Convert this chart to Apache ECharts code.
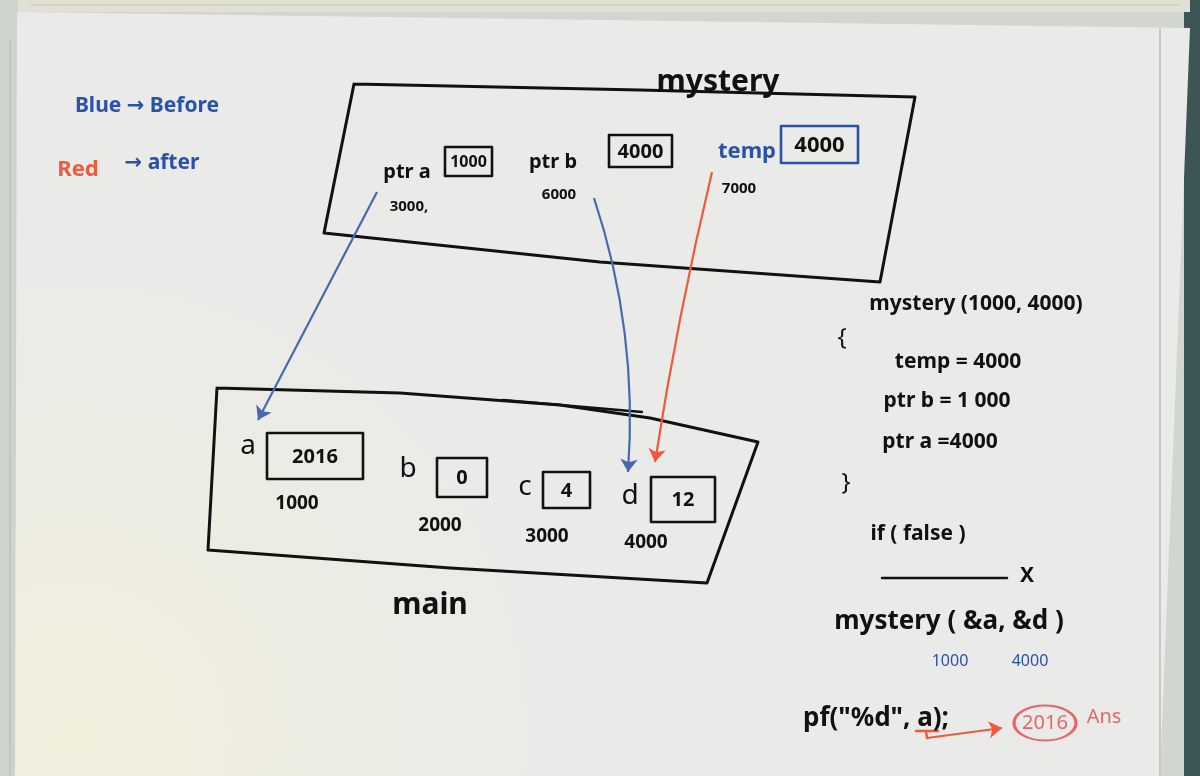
<!DOCTYPE html>
<html>
<head>
<meta charset="utf-8">
<title>mystery - whiteboard</title>
<script src="https://cdn.jsdelivr.net/npm/echarts@6/dist/echarts.min.js"></script>
<style>
  html, body { margin: 0; padding: 0; background: #3e5556; }
  #main { width: 1200px; height: 776px; }
</style>
</head>
<body>
<div id="main"></div>
<script>
// whiteboard drawn on a hidden 1200 x 776 value grid (y goes down)
var FONT = '"Noto Sans", "DejaVu Sans", sans-serif';
var INK = '#111111', BLUE = '#2a52a6', ARROW_BLUE = '#4669b2', RED = '#ee5a3c', PINK = '#e8666b';

// outlines
var mysteryFrame = [[354, 84], [640, 90], [915, 97], [880, 282], [600, 262], [324, 233], [354, 84]];
var mainFrame = [[217, 388], [400, 393], [560, 405], [650, 418], [758, 442], [707, 583], [450, 568], [208, 550], [217, 388]];
var mainExtra = [[503, 400], [642, 412]];
var ifLine = [[882, 578], [1007, 578]];

// value boxes [x0, y0, x1, y1]
var blackBoxes = [[445, 147, 492, 176], [609, 135, 672, 167], [267, 433, 363, 479],
                  [437, 458, 487, 497], [543, 472, 590, 508], [651, 477, 715, 522]];
var blackBoxValues = ['1000', '4000', '2016', '0', '4', '12'];
var blueBoxes = [[781, 126, 858, 163]];
var blueBoxValues = ['4000'];

// texts
var titleNames = ['mystery', 'main'];
var titlePos = [[718, 82], [430, 605]];
var varNames = ['a', 'b', 'c', 'd'];
var varPos = [[248, 446], [408, 469], [525, 487], [630, 496]];
var addrNames = ['1000', '2000', '3000', '4000'];
var addrPos = [[297, 504], [440, 526], [547, 537], [646, 543]];
var ptrNames = ['ptr a', 'ptr b'];
var ptrPos = [[407, 172], [553, 162]];
var ptrAddrNames = ['3000,', '6000', '7000'];
var ptrAddrPos = [[409, 207], [559, 195], [739, 189]];
var tempName = ['temp'];
var tempPos = [[747, 152]];
var codeLines = ['mystery (1000, 4000)', 'temp = 4000', 'ptr b = 1 000', 'ptr a =4000', 'if ( false )', 'X'];
var codePos = [[976, 304], [958, 362], [947, 401], [940, 442], [918, 534], [1027, 576]];
var braceNames = ['{', '}'];
var bracePos = [[842, 338], [846, 483]];
var callLines = ['mystery ( &a, &d )', 'pf("%d", a);'];
var callPos = [[949, 622], [876, 719]];
var argNames = ['1000', '4000'];
var argPos = [[950, 661], [1030, 661]];
var legendBlue = ['Blue → Before', '→ after'];
var legendBluePos = [[147, 106], [162, 163]];
var legendRed = ['Red'];
var legendRedPos = [[78, 170]];
var answerNames = ['2016', 'Ans'];
var answerPos = [[1045, 723], [1104, 717]];

// arrows [from, to]
var blueArrows = [[[377, 192], [258, 420]], [[594, 198], [628, 472]]];
var blueCurves = [0, 0.1];
var redArrows = [[[712, 172], [655, 462]], [[927, 738], [1002, 728]]];
var redCurves = [-0.02, 0];
var answerUnderline = [[[916, 731], [938, 731]], [[926, 731], [927, 738]]];

function boxPath(b) {
    return [[b[0], b[1]], [b[2], b[1]], [b[2], b[3]], [b[0], b[3]], [b[0], b[1]]];
}
function boxCenter(b) {
    return [(b[0] + b[2]) / 2, (b[1] + b[3]) / 2 + 1];
}
function outline(points, color, width) {
    return {
        type: 'line', data: points, symbol: 'none', silent: true, z: 3,
        lineStyle: { color: color, width: width, cap: 'round', join: 'round' }
    };
}
function texts(names, pos, color, size, weight) {
    return {
        type: 'scatter', silent: true, symbolSize: 1, z: 5,
        itemStyle: { color: 'transparent', opacity: 1 },
        data: names.map(function (n, i) { return { name: n, value: pos[i] }; }),
        label: {
            show: true, position: 'inside', formatter: '{b}', opacity: 1,
            color: color, fontSize: size, fontFamily: FONT, fontWeight: weight || 'bold'
        }
    };
}
function arrows(list, curves, color) {
    return {
        type: 'lines', coordinateSystem: 'cartesian2d', silent: true, z: 4,
        symbol: ['none', 'arrow'], symbolSize: 13,
        data: list.map(function (a, i) {
            return { coords: a, lineStyle: { curveness: curves[i] } };
        }),
        lineStyle: { color: color, width: 2.2, opacity: 1 }
    };
}

var myChart = echarts.init(document.getElementById('main'), null, { renderer: 'canvas' });

var series = [];
series.push(outline(mysteryFrame, INK, 3));
series.push(outline(mainFrame, INK, 3));
series.push(outline(mainExtra, INK, 2.5));
series.push(outline(ifLine, INK, 2.5));
blackBoxes.forEach(function (b) { series.push(outline(boxPath(b), INK, 2.6)); });
blueBoxes.forEach(function (b) { series.push(outline(boxPath(b), BLUE, 2.6)); });
answerUnderline.forEach(function (p) { series.push(outline(p, RED, 2.4)); });

series.push(texts([blackBoxValues[0]], [boxCenter(blackBoxes[0])], INK, 16));
series.push(texts(blackBoxValues.slice(1), blackBoxes.slice(1).map(boxCenter), INK, 20));
series.push(texts(blueBoxValues, blueBoxes.map(boxCenter), INK, 22));
series.push(texts(titleNames, titlePos, INK, 30));
series.push(texts(varNames, varPos, INK, 28, 'normal'));
series.push(texts(addrNames, addrPos, INK, 19));
series.push(texts(ptrNames, ptrPos, INK, 20));
series.push(texts(ptrAddrNames, ptrAddrPos, INK, 15));
series.push(texts(tempName, tempPos, BLUE, 22));
series.push(texts(codeLines, codePos, INK, 21));
series.push(texts(braceNames, bracePos, INK, 24, 'normal'));
series.push(texts(callLines, callPos, INK, 26));
series.push(texts(argNames, argPos, BLUE, 16, 'normal'));
series.push(texts(legendBlue, legendBluePos, BLUE, 21));
series.push(texts(legendRed, legendRedPos, RED, 22));
series.push(texts(answerNames, answerPos, PINK, 20, 'normal'));

// circle round the answer
series.push({
    type: 'scatter', silent: true, z: 4,
    symbol: 'circle', symbolSize: [62, 35],
    data: [answerPos[0]],
    itemStyle: { color: 'transparent', borderColor: PINK, borderWidth: 2.5, opacity: 1 }
});

series.push(arrows(blueArrows, blueCurves, ARROW_BLUE));
series.push(arrows(redArrows, redCurves, RED));

var option = {
    backgroundColor: '#d3d5d0',
    animation: false,
    grid: { left: 0, right: 0, top: 0, bottom: 0 },
    xAxis: { type: 'value', min: 0, max: 1200, show: false },
    yAxis: { type: 'value', min: 0, max: 776, inverse: true, show: false },
    graphic: [
        // dark wall at the right
        { type: 'rect', z: -10, shape: { x: 1184, y: 0, width: 16, height: 776 }, style: { fill: '#3e5556' } },
        // aluminium frame strips
        { type: 'rect', z: -9, shape: { x: 0, y: 0, width: 1190, height: 12 }, style: { fill: '#e1e0d2' } },
        { type: 'rect', z: -9, shape: { x: 0, y: 0, width: 18, height: 776 }, style: { fill: '#cfd3cd' } },
        { type: 'line', z: -8, shape: { x1: 10, y1: 40, x2: 10, y2: 776 }, style: { stroke: '#b5bab4', lineWidth: 1 } },
        { type: 'line', z: -8, shape: { x1: 30, y1: 5, x2: 1180, y2: 5 }, style: { stroke: '#c9c8b8', lineWidth: 1 } },
        // board surface
        {
            type: 'polygon', z: -7,
            shape: { points: [[17, 12], [1190, 28], [1160, 776], [15, 776]] },
            style: {
                fill: {
                    type: 'radial', x: 0.05, y: 0.95, r: 0.6,
                    colorStops: [{ offset: 0, color: '#f1efdc' }, { offset: 1, color: '#eaeae8' }]
                }
            }
        },
        { type: 'line', z: -6, shape: { x1: 1160, y1: 28, x2: 1160, y2: 776 }, style: { stroke: '#c6c9c4', lineWidth: 2 } }
    ],
    series: series
};
myChart.setOption(option);
</script>
</body>
</html>
